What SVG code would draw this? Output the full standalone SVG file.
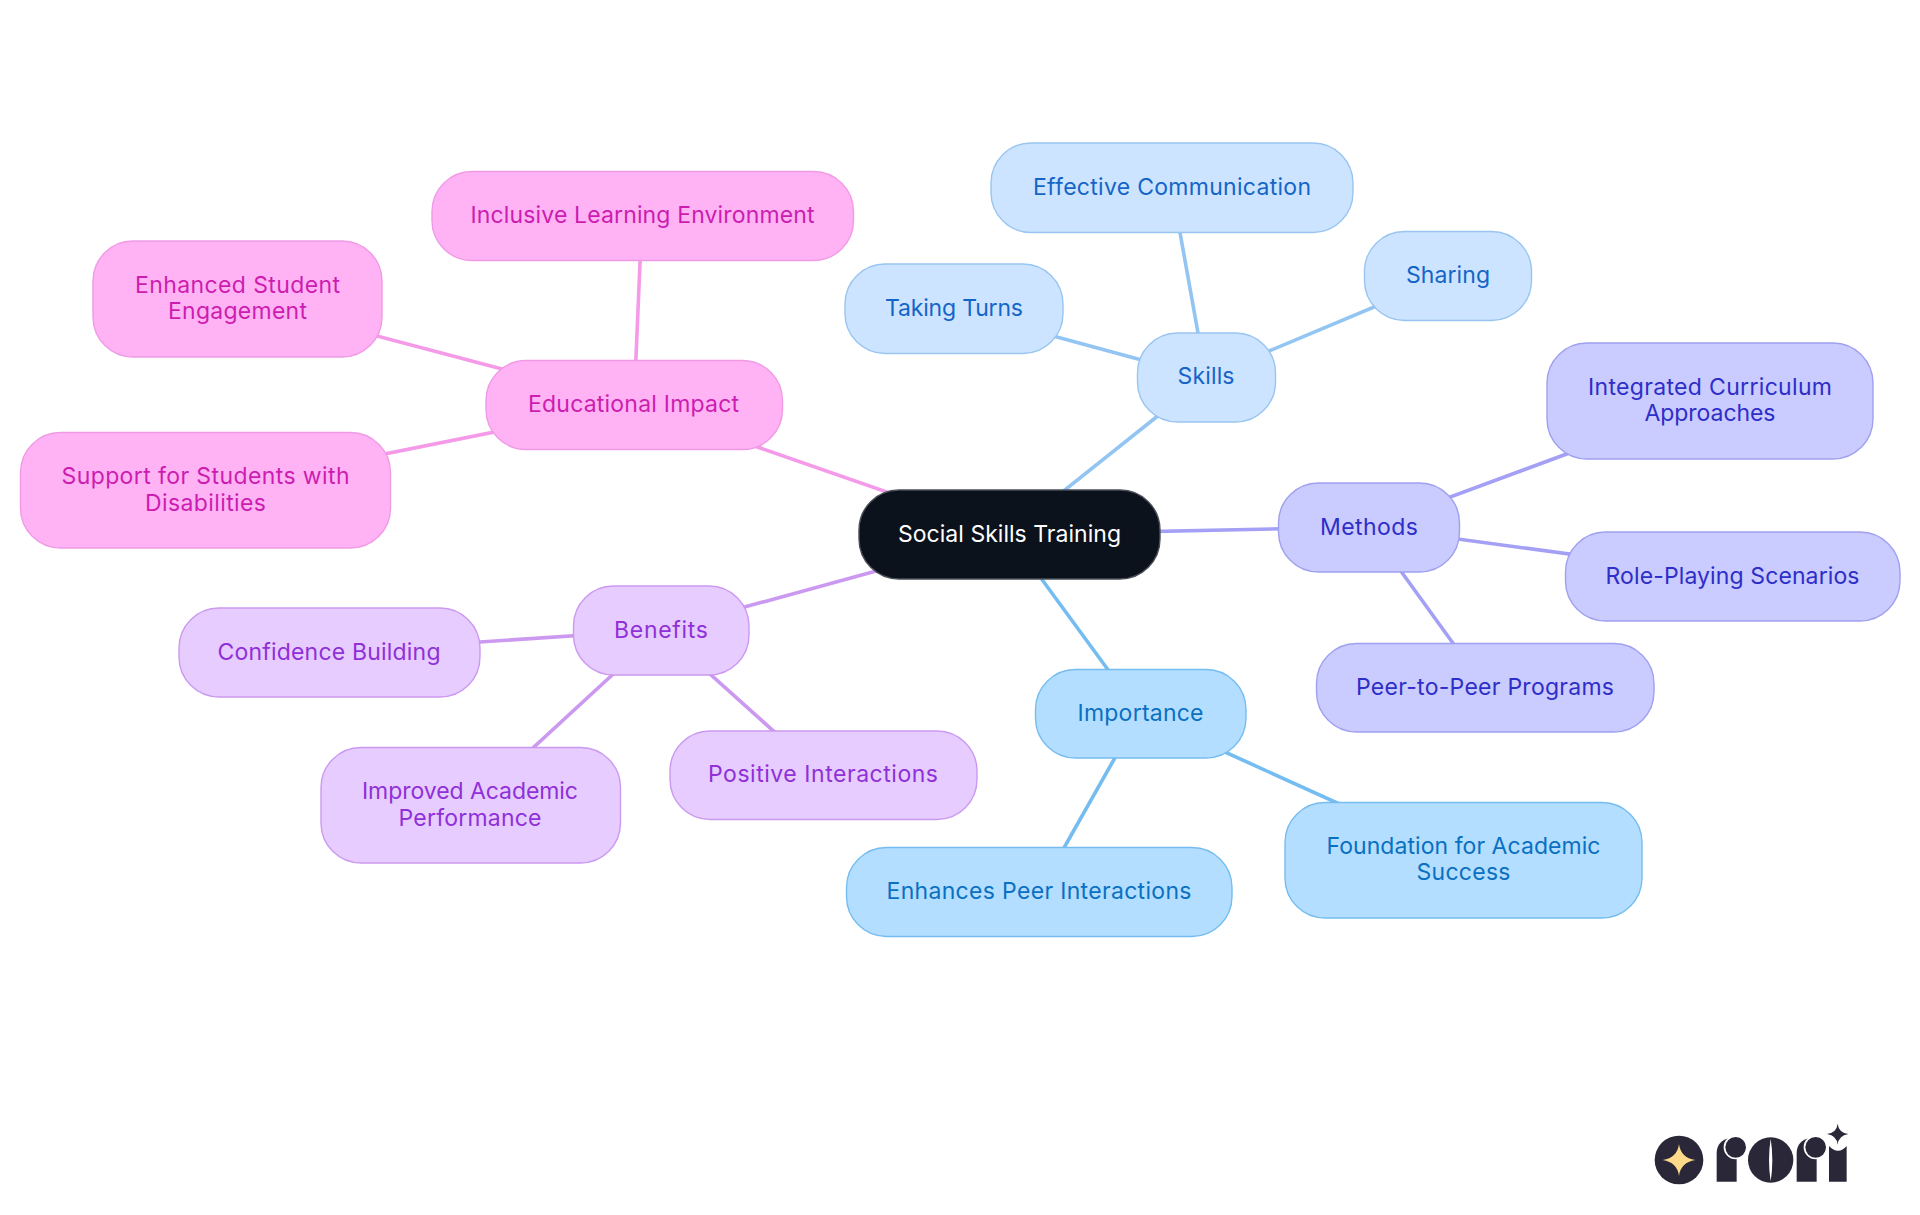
<svg xmlns="http://www.w3.org/2000/svg" width="1920" height="1215" viewBox="0 0 1920 1215">
<style>
text{font-family:"Inter","Noto Sans","Liberation Sans",sans-serif;font-size:23px;font-weight:400;text-anchor:middle}
.e{stroke-width:3.6;fill:none;stroke-linecap:round}
.pk rect{fill:#ffb3f5;stroke:#f09ae6}.pk text{fill:#cc1db0}
.sk rect{fill:#cce4ff;stroke:#99c5f0}.sk text{fill:#1565c8}
.im rect{fill:#b3deff;stroke:#75bdf0}.im text{fill:#0a70c2}
.me rect{fill:#cacbff;stroke:#a0a0f0}.me text{fill:#2e2ec8}
.be rect{fill:#e6ccff;stroke:#cc99f0}.be text{fill:#9030d8}
rect{stroke-width:1.4}
.l{fill:#2a2838}
</style>
<rect width="1920" height="1215" fill="#fff" stroke="none"/>
<g id="connectors" class="e">
<g stroke="#f49ae8">
<line x1="1009" y1="534.5" x2="634" y2="404"/><line x1="634" y1="404" x2="642" y2="216"/><line x1="634" y1="404" x2="237" y2="299"/><line x1="634" y1="404" x2="205" y2="490"/>
</g>
<g stroke="#93c5f3">
<line x1="1009" y1="534.5" x2="1206" y2="377.500"/><line x1="1206" y1="377.500" x2="1172" y2="188"/><line x1="1206" y1="377.500" x2="1448" y2="276"/><line x1="1206" y1="377.500" x2="954" y2="309"/>
</g>
<g stroke="#a3a0f5">
<line x1="1009" y1="534.5" x2="1369" y2="527"/><line x1="1369" y1="527" x2="1710" y2="401"/><line x1="1369" y1="527" x2="1732" y2="576"/><line x1="1369" y1="527" x2="1485" y2="687.500"/>
</g>
<g stroke="#75bdf0">
<line x1="1009" y1="534.5" x2="1140" y2="713.500"/><line x1="1140" y1="713.500" x2="1463" y2="860"/><line x1="1140" y1="713.500" x2="1039" y2="892"/>
</g>
<g stroke="#cc99f0">
<line x1="1009" y1="534.5" x2="661" y2="630"/><line x1="661" y1="630" x2="329" y2="652"/><line x1="661" y1="630" x2="471" y2="805"/><line x1="661" y1="630" x2="823" y2="775.500"/>
</g>
</g>
<g id="root"><rect x="859" y="490" width="301" height="89" rx="40" fill="#0b121b" stroke="#4a4f57"/><text x="1009.500" y="541.500" fill="#fff" textLength="223">Social Skills Training</text></g>
<g id="educational" class="pk"><rect x="486" y="360.500" width="296.500" height="89" rx="40"/><text x="633.500" y="411.500" textLength="211">Educational Impact</text></g>
<g id="inclusive" class="pk"><rect x="432" y="171.500" width="421.500" height="89" rx="40"/><text x="642.500" y="223" textLength="344">Inclusive Learning Environment</text></g>
<g id="enhanced" class="pk"><rect x="93" y="241" width="289" height="116" rx="40"/><text x="237.500" y="293" textLength="205">Enhanced Student</text><text x="237.500" y="319" textLength="139">Engagement</text></g>
<g id="support" class="pk"><rect x="20.500" y="432.500" width="370" height="115.500" rx="40"/><text x="205.500" y="484" textLength="288">Support for Students with</text><text x="205.500" y="510.500" textLength="121">Disabilities</text></g>
<g id="skills" class="sk"><rect x="1137.500" y="333" width="138" height="89" rx="40"/><text x="1206" y="384" textLength="57">Skills</text></g>
<g id="effective" class="sk"><rect x="991" y="143" width="362" height="89.500" rx="40"/><text x="1172" y="195" textLength="278">Effective Communication</text></g>
<g id="sharing" class="sk"><rect x="1364.500" y="231.500" width="167" height="89" rx="40"/><text x="1448" y="282.500" textLength="84">Sharing</text></g>
<g id="taking" class="sk"><rect x="845" y="264" width="218" height="89.500" rx="40"/><text x="954" y="315.500" textLength="138">Taking Turns</text></g>
<g id="methods" class="me"><rect x="1278.500" y="483" width="181" height="89" rx="40"/><text x="1369" y="534.500" textLength="98">Methods</text></g>
<g id="integrated" class="me"><rect x="1547" y="343" width="326" height="116" rx="40"/><text x="1710" y="395" textLength="244">Integrated Curriculum</text><text x="1710" y="421" textLength="131">Approaches</text></g>
<g id="role" class="me"><rect x="1565.500" y="532" width="334.500" height="89" rx="40"/><text x="1732.500" y="583.500" textLength="254">Role-Playing Scenarios</text></g>
<g id="peer" class="me"><rect x="1316.500" y="643.500" width="337.500" height="88.500" rx="40"/><text x="1485" y="695" textLength="258">Peer-to-Peer Programs</text></g>
<g id="importance" class="im"><rect x="1035.500" y="669.500" width="210.500" height="88.500" rx="40"/><text x="1140.500" y="720.500" textLength="126">Importance</text></g>
<g id="foundation" class="im"><rect x="1285" y="802.500" width="357" height="115.500" rx="40"/><text x="1463.500" y="854" textLength="274">Foundation for Academic</text><text x="1463.500" y="880" textLength="94">Success</text></g>
<g id="enhances" class="im"><rect x="846.500" y="847.500" width="385.500" height="89" rx="40"/><text x="1039" y="898.500" textLength="305">Enhances Peer Interactions</text></g>
<g id="benefits" class="be"><rect x="573.500" y="586" width="175.500" height="89" rx="40"/><text x="661" y="638" textLength="94">Benefits</text></g>
<g id="confidence" class="be"><rect x="179" y="608" width="301" height="89" rx="40"/><text x="329" y="660" textLength="223">Confidence Building</text></g>
<g id="improved" class="be"><rect x="321" y="747.500" width="299.500" height="115.500" rx="40"/><text x="470" y="799" textLength="216">Improved Academic</text><text x="470" y="825.500" textLength="143">Performance</text></g>
<g id="positive" class="be"><rect x="670" y="731" width="307" height="88.500" rx="40"/><text x="823" y="782" textLength="230">Positive Interactions</text></g>
<g id="logo" transform="translate(1620 1090) scale(.33333)">
<circle class="l" cx="177" cy="210" r="73"/>
<path d="M177 162Q182 203 226 210Q182 217 177 258Q172 217 128 210Q172 203 177 162Z" fill="#ffd98a"/>
<g id="logo-mark-1"><path class="l" d="M290 275V190C290 165 305 148 330 145H350V275Z"/><circle cx="347" cy="172" r="36" fill="#fff"/><circle class="l" cx="347" cy="172" r="31"/></g>
<g id="logo-mark-2"><circle class="l" cx="452" cy="210" r="68"/><path d="M452 146Q442 210 452 274Q462 210 452 146Z" fill="#fff"/></g>
<g id="logo-mark-3"><path class="l" d="M530 275V190C530 165 545 148 570 145H590V275Z"/><circle cx="587" cy="172" r="36" fill="#fff"/><circle class="l" cx="587" cy="172" r="31"/></g>
<g id="logo-mark-4"><path class="l" d="M627 275V168Q640 182 654 182Q668 182 680 168V275Z"/><path class="l" d="M653 101Q656 128 685 132Q656 136 653 164Q650 136 621 132Q650 128 653 101Z"/></g>
</g>
</svg>
